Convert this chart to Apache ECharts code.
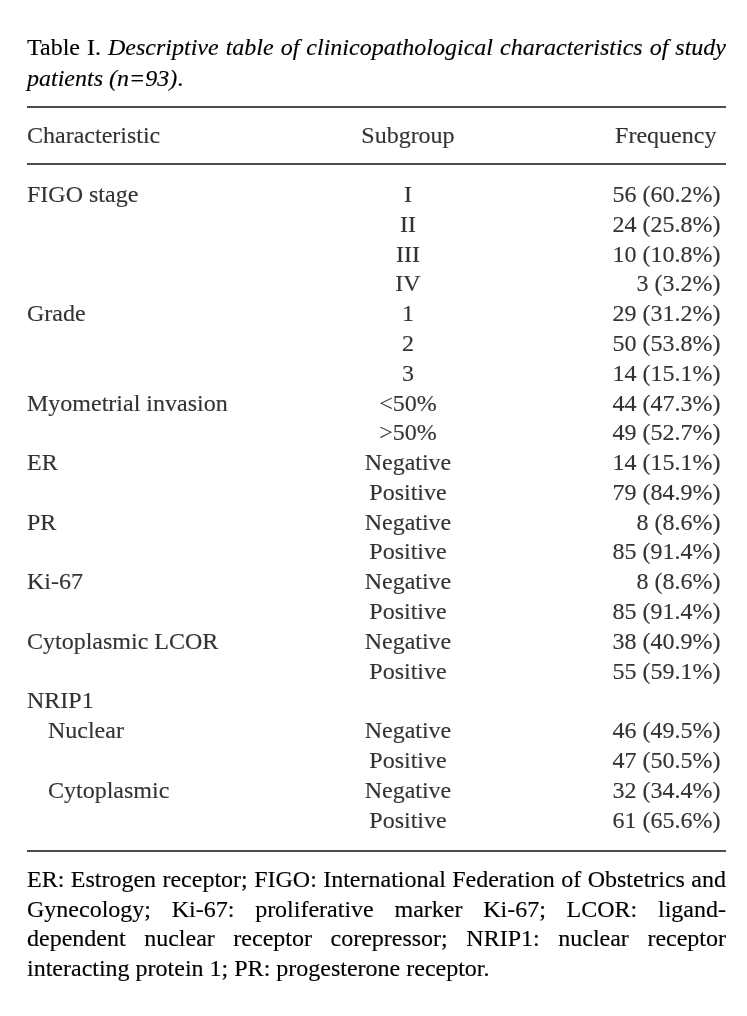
<!DOCTYPE html>
<html>
<head>
<meta charset="utf-8">
<script src="https://cdn.jsdelivr.net/npm/echarts@6/dist/echarts.min.js"></script>
<style>
html,body{margin:0;padding:0;background:#fff;}
#chart{width:747px;height:1016px;}
</style>
</head>
<body>
<div id="chart"></div>
<script>
// ---------- data ----------
const headers = ['Characteristic', 'Subgroup', 'Frequency'];
const characteristics = ['FIGO stage','','','','Grade','','','Myometrial invasion','','ER','','PR','','Ki-67','','Cytoplasmic LCOR','','NRIP1','Nuclear','','Cytoplasmic',''];
const nestLevel = [0,0,0,0,0,0,0,0,0,0,0,0,0,0,0,0,0,0,1,1,1,1];
const subgroups = ['I','II','III','IV','1','2','3','<50%','>50%','Negative','Positive','Negative','Positive','Negative','Positive','Negative','Positive','','Negative','Positive','Negative','Positive'];
const counts = [56,24,10,3,29,50,14,44,49,14,79,8,85,8,85,38,55,null,46,47,32,61];
const percents = [60.2,25.8,10.8,3.2,31.2,53.8,15.1,47.3,52.7,15.1,84.9,8.6,91.4,8.6,91.4,40.9,59.1,null,49.5,50.5,34.4,65.6];

const titleLines = [
  [['Table I.', false], ['Descriptive table of clinicopathological characteristics of study', true]],
  [['patients (n=93)', true], ['.', false]]
];
const footnoteLines = [
  'ER: Estrogen receptor; FIGO: International Federation of Obstetrics and',
  'Gynecology; Ki-67: proliferative marker Ki-67; LCOR: ligand-',
  'dependent nuclear receptor corepressor; NRIP1: nuclear receptor',
  'interacting protein 1; PR: progesterone receptor.'
];

// ---------- layout ----------
const FONT_FAMILY = '"Liberation Serif", "Times New Roman", serif';
const FS = 24;
const TXT = '#000000';
const STROKE_W = 0.15;
const LEFT = 27, RIGHT = 726;
const fontReg = FS + 'px ' + FONT_FAMILY;
const fontIt = 'italic ' + FS + 'px ' + FONT_FAMILY;

const chart = echarts.init(document.getElementById('chart'), null, {renderer: 'canvas'});

const ctx = document.createElement('canvas').getContext('2d');
function measure(t, font) { ctx.font = font; return ctx.measureText(t).width; }

function lineElements(parts, y, justify) {
  const words = [];
  parts.forEach(([text, it], pi) => {
    const toks = text.split(' ');
    toks.forEach((tk, ti) => {
      if (ti === 0 && pi > 0 && words.length && /^[.,;)]/.test(tk)) {
        words[words.length-1].segs.push({t: tk, it});
      } else {
        words.push({segs: [{t: tk, it}]});
      }
    });
  });
  words.forEach(w => {
    w.width = w.segs.reduce((s, g) => s + measure(g.t, g.it ? fontIt : fontReg), 0);
  });
  const total = words.reduce((s, w) => s + w.width, 0);
  const gap = justify && words.length > 1 ? (RIGHT - LEFT - total) / (words.length - 1) : measure(' ', fontReg);
  const els = [];
  let x = LEFT;
  words.forEach(w => {
    let sx = x;
    w.segs.forEach(g => {
      const f = g.it ? fontIt : fontReg;
      els.push({type: 'text', x: sx, y: y, silent: true,
        style: {text: g.t, font: f, fill: TXT, stroke: TXT, lineWidth: STROKE_W,
                verticalAlign: 'middle', textVerticalAlign: 'middle', align: 'left'}});
      sx += measure(g.t, f);
    });
    x += w.width + gap;
  });
  return els;
}

const graphics = [];
titleLines.forEach((ln, i) => {
  graphics.push(...lineElements(ln, 49 + i * 31, i < titleLines.length - 1));
});
footnoteLines.forEach((ln, i) => {
  graphics.push(...lineElements([[ln, false]], 881 + i * 29.6, i < footnoteLines.length - 1));
});

const HEADER_ROW = 0, FIRST_ROW = 2;
const X_CHAR = 0, X_INDENT = 3, X_SUB = 54.5, X_FREQ = 99.2;

const charData = [{value: [X_CHAR, HEADER_ROW], name: headers[0]}];
characteristics.forEach((c, i) => {
  if (c) charData.push({value: [nestLevel[i] ? X_INDENT : X_CHAR, FIRST_ROW + i], name: c});
});
const subData = [{value: [X_SUB, HEADER_ROW], name: headers[1]}];
subgroups.forEach((s, i) => { if (s) subData.push({value: [X_SUB, FIRST_ROW + i], name: s}); });
const freqData = [{value: [X_FREQ, HEADER_ROW], name: headers[2], label: {offset: [-4, 0]}}];
counts.forEach((n, i) => {
  if (n !== null) freqData.push({value: [X_FREQ, FIRST_ROW + i], name: n + ' (' + percents[i].toFixed(1) + '%)'});
});

const labelBase = {show: true, color: TXT, fontFamily: FONT_FAMILY, fontSize: FS,
  textBorderColor: TXT, textBorderWidth: STROKE_W, formatter: p => p.name};

const option = {
  backgroundColor: '#ffffff',
  animation: false,
  grid: {left: LEFT, right: 747 - RIGHT, top: 106.5, height: 744.5},
  xAxis: {type: 'value', min: 0, max: 100, show: false},
  yAxis: {type: 'value', min: -1, max: 24, inverse: true, show: false},
  series: [
    {type: 'scatter', symbolSize: 0, data: charData, silent: true,
     label: Object.assign({}, labelBase, {position: 'right', distance: 0}),
     markLine: {silent: true, symbol: ['none', 'none'], label: {show: false},
       lineStyle: {type: 'solid', color: '#111111', width: 1.6},
       data: [{yAxis: -1}, {yAxis: 0.92}, {yAxis: 24}]}},
    {type: 'scatter', symbolSize: 0, data: subData, silent: true,
     label: Object.assign({}, labelBase, {position: 'inside'})},
    {type: 'scatter', symbolSize: 0, data: freqData, silent: true,
     label: Object.assign({}, labelBase, {position: 'left', distance: 0})}
  ],
  graphic: graphics
};
chart.setOption(option);
</script>
</body>
</html>
